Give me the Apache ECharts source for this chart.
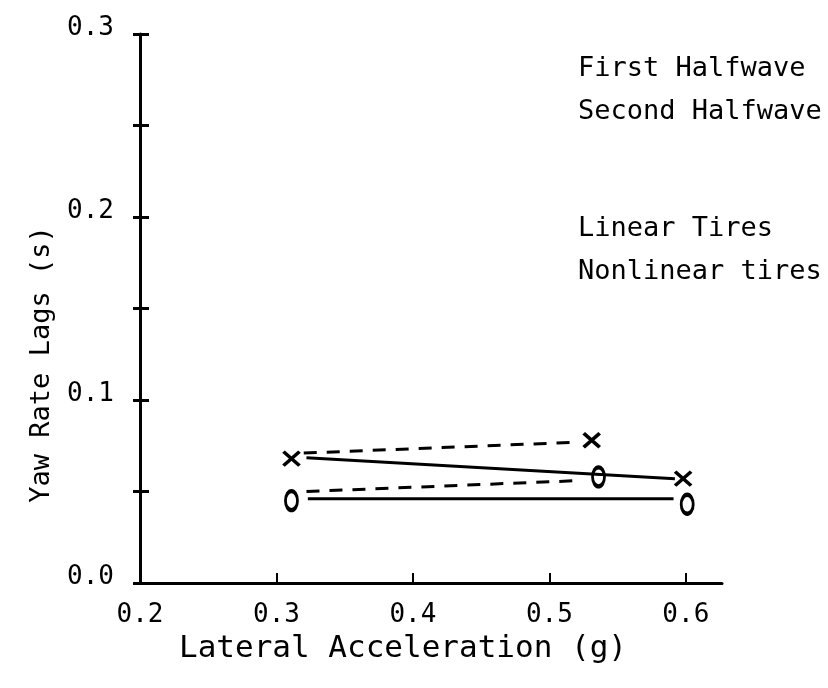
<!DOCTYPE html>
<html><head><meta charset="utf-8">
<script src="https://cdn.jsdelivr.net/npm/echarts@6/dist/echarts.min.js"></script>
<style>html,body{margin:0;background:#fff}#c{width:828px;height:688px}</style>
</head><body><div id="c"></div>
<script>
// ---- data ----
const xTickValues = [0.3, 0.4, 0.5, 0.6];
const xLabelValues = [0.2, 0.3, 0.4, 0.5, 0.6];
const yTickValues = [0.0, 0.05, 0.1, 0.15, 0.2, 0.25, 0.3];
const yLabelValues = [0.0, 0.1, 0.2, 0.3];
const xMarkers = [[0.311, 0.068], [0.531, 0.078], [0.598, 0.057]];
const oMarkers = [[0.311, 0.045], [0.536, 0.058], [0.601, 0.043]];
const dashedUpper = [[0.320, 0.071], [0.522, 0.077]];
const solidUpper = [[0.322, 0.0685], [0.592, 0.057]];
const dashedLower = [[0.322, 0.050], [0.523, 0.056]];
const solidLower = [[0.323, 0.046], [0.591, 0.046]];
const legendLines = ['First Halfwave', 'Second Halfwave', 'Linear Tires', 'Nonlinear tires'];
const xName = 'Lateral Acceleration (g)';
const yName = 'Yaw Rate Lags (s)';

const FONT = 'DejaVu Sans Mono';
const gridBox = {left: 140, right: 106, top: 34, bottom: 105};
const xMin = 0.2, xMax = 0.6265, yMin = 0, yMax = 0.3;

const chart = echarts.init(document.getElementById('c'));
const xSym = 'path://M0,0L14,12M14,0L0,12';
const oSym = 'path://M6,0C9.3,0 12,3.8 12,8.5C12,13.2 9.3,17 6,17C2.7,17 0,13.2 0,8.5C0,3.8 2.7,0 6,0Z';
const legendY = [68, 111, 228, 271];

chart.setOption({
  backgroundColor: '#fff',
  animation: false,
  grid: [Object.assign({}, gridBox), Object.assign({}, gridBox)],
  xAxis: [{
    type: 'value', min: xMin, max: xMax, gridIndex: 0,
    splitLine: {show: false},
    axisLine: {lineStyle: {color: '#000', width: 3}},
    axisTick: {show: true, inside: true, length: 10, customValues: xTickValues, lineStyle: {color: '#000', width: 2}},
    axisLabel: {customValues: xLabelValues, margin: 19, color: '#000', fontFamily: FONT, fontSize: 26,
      formatter: v => v.toFixed(1)},
    name: xName, nameLocation: 'middle', nameGap: 50,
    nameTextStyle: {color: '#000', fontFamily: FONT, fontSize: 31, padding: [0, 56, 0, 0]}
  }, {
    type: 'value', min: xMin, max: xMax, gridIndex: 1, show: false
  }],
  yAxis: [{
    type: 'value', min: yMin, max: yMax, gridIndex: 0,
    splitLine: {show: false},
    axisLine: {lineStyle: {color: '#000', width: 3}},
    axisTick: {show: true, length: 7, customValues: yTickValues, lineStyle: {color: '#000', width: 3}},
    axisLabel: {customValues: yLabelValues, margin: 26, color: '#000', fontFamily: FONT, fontSize: 26,
      verticalAlign: 'bottom', lineHeight: 12, formatter: v => v.toFixed(1)},
    name: yName, nameLocation: 'middle', nameGap: 85, nameRotate: 90,
    nameTextStyle: {color: '#000', fontFamily: FONT, fontSize: 27, padding: [0, 112, 0, 0]}
  }, {
    type: 'value', min: yMin, max: yMax, gridIndex: 1,
    splitLine: {show: false},
    axisLine: {show: false},
    axisLabel: {show: false},
    axisTick: {show: true, inside: true, length: 9, customValues: yTickValues, lineStyle: {color: '#000', width: 3}}
  }],
  graphic: legendLines.map((t, i) => ({
    type: 'text', left: 578, top: legendY[i] - 13,
    style: {text: t, fill: '#000', font: '27px "' + FONT + '"'}
  })),
  series: [
    {type: 'line', data: dashedUpper, symbol: 'none', lineStyle: {color: '#000', width: 3, type: [13, 10]}},
    {type: 'line', data: solidUpper, symbol: 'none', lineStyle: {color: '#000', width: 3}},
    {type: 'line', data: dashedLower, symbol: 'none', lineStyle: {color: '#000', width: 3, type: [13, 10]}},
    {type: 'line', data: solidLower, symbol: 'none', lineStyle: {color: '#000', width: 3}},
    {type: 'scatter', data: xMarkers, symbol: xSym, symbolSize: [16, 14],
      itemStyle: {color: 'rgba(0,0,0,0)', borderColor: '#000', borderWidth: 3.5, opacity: 1}},
    {type: 'scatter', data: oMarkers, symbol: oSym, symbolSize: [12, 19],
      itemStyle: {color: 'rgba(0,0,0,0)', borderColor: '#000', borderWidth: 3.5, opacity: 1}}
  ]
});
</script></body></html>
